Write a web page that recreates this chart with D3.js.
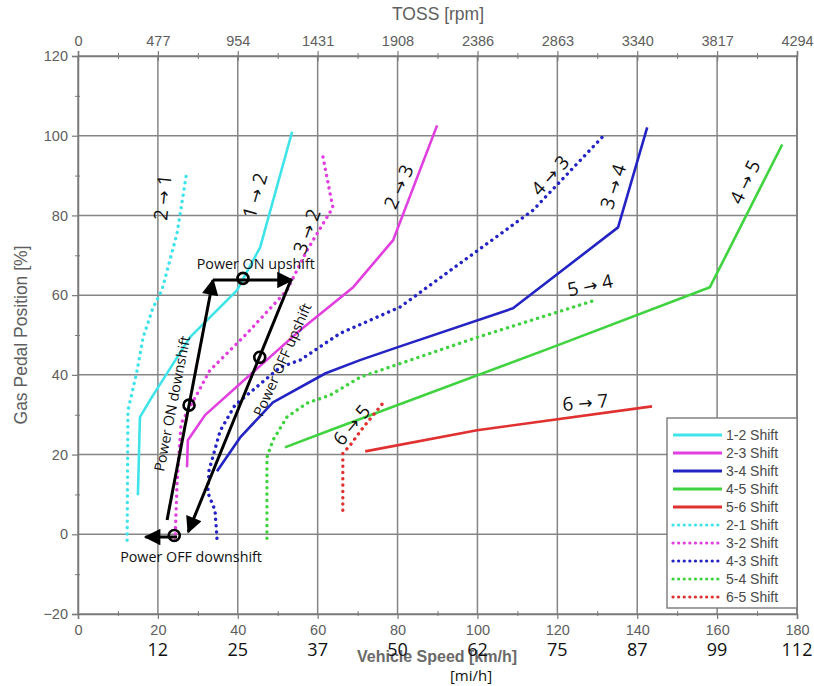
<!DOCTYPE html>
<html><head><meta charset="utf-8">
<script src="https://cdn.jsdelivr.net/npm/d3@7"></script>
<style>body{margin:0;background:#fff}svg{display:block}</style>
</head><body>
<svg id="c" width="814" height="686"></svg>
<script>
// ---- data ----
const speedTicks = [0,20,40,60,80,100,120,140,160,180];
const mphLabels  = ["","12","25","37","50","62","75","87","99","112"];
const tossTicks  = [0,477,954,1431,1908,2386,2863,3340,3817,4294];
const pedalTicks = [-20,0,20,40,60,80,100,120];

const shift12 = [[15.0,9.8],[15.5,29.4],[18.5,34.4],[28,49.4],[39.8,61.2],[45.6,72],[53.6,101]];
const shift23 = [[27.3,16.8],[27.5,23.6],[31.8,29.9],[55.6,51.2],[68.9,62],[78.9,73.8],[89.9,102.6]];
const shift34 = [[34.8,15.8],[40.6,24.3],[48.8,33.1],[62,40.4],[70.6,43.7],[79.9,46.9],[108.9,56.7],[135.2,77],[142.5,102.1]];
const shift45 = [[51.8,21.8],[63.1,26.1],[118.2,46.7],[158.2,62],[176.3,97.8]];
const shift56 = [[71.9,20.8],[99.9,26.1],[143.7,32.1]];
const shift21 = [[12.3,-1.5],[12.5,31],[14.8,41.1],[16.3,49.4],[18.8,56.9],[21,61.2],[24.8,75.5],[27.3,91.3]];
const shift32 = [[24.3,-1.5],[24.8,12.8],[25.8,27.8],[33,41.1],[42.3,50.4],[52.3,61.2],[57.3,71.2],[63.8,82],[61.1,95.8]];
const shift43 = [[34.8,-1],[34.3,6],[32.5,10.5],[32.8,16],[35.6,26],[39.3,32.4],[50.6,41.9],[55.6,43.7],[65.6,50.4],[80.6,57],[113.9,81.3],[131.2,99.6]];
const shift54 = [[47.3,-1],[47.3,19.3],[48.8,23.6],[52.3,29.4],[57.3,32.9],[63.1,34.9],[70.6,39.4],[99.9,49.4],[129.4,58.7]];
const shift65 = [[66.3,6],[66.3,20.3],[68.1,22.3],[71.4,26.8],[76.1,32.6]];

const seriesNames  = ["1-2 Shift","2-3 Shift","3-4 Shift","4-5 Shift","5-6 Shift","2-1 Shift","3-2 Shift","4-3 Shift","5-4 Shift","6-5 Shift"];
const seriesData   = [shift12,shift23,shift34,shift45,shift56,shift21,shift32,shift43,shift54,shift65];
const seriesColors = ["#3fe3ea","#e23fe0","#2424c4","#3fd33f","#e03030","#3fe3ea","#e23fe0","#2424c4","#3fd33f","#e03030"];
const seriesDotted = [false,false,false,false,false,true,true,true,true,true];

// shift labels: [from, to, speed, pedal, angle]
const shiftLabels = [
  ["2","1",21.2,84.5,-84],["1","2",44.3,85,-74],["3","2",57.3,76,-70],
  ["2","3",80.3,87.2,-66],["4","3",118.2,90,-48],["3","4",134,87.2,-72],
  ["4","5",167,88.4,-64],["5","4",128.2,62.5,-12],["6","7",127,33.1,-5],["6","5",68.5,27.4,-50]
];
// power annotation path (speed, pedal)
const onDown  = [[22.3,3.6],[33.8,63.8]];
const onUp    = [[33.8,63.8],[53.6,63.8]];
const offUp   = [[53.3,63.8],[27.6,0.6]];
const offDown = [[24.8,-0.7],[16.9,-0.7]];
const markers = [[41.3,64.2],[45.5,44.4],[27.8,32.4],[24.1,-0.3]];
const annLabels = [
  ["Power ON upshift",44.5,67.7,0],["Power ON downshift",23.6,32.8,-79],
  ["Power OFF upshift",51.2,43.8,-66],["Power OFF downshift",28.3,-5.8,0]
];

// ---- chart ----
const svg = d3.select("#c");
const x = d3.scaleLinear().domain([0,180]).range([78,797]);
const xTop = d3.scaleLinear().domain([0,4294]).range([78,797]);
const y = d3.scaleLinear().domain([-20,120]).range([614,56]);
const gray = "#5e5e5e";
const axisFont = "'Liberation Sans', Arial, sans-serif";
const blackFont = "'Open Sans', 'Noto Sans', sans-serif";

// grid
const grid = svg.append("g").attr("stroke","#858585").attr("stroke-width",1.5);
speedTicks.forEach(v=>grid.append("line").attr("x1",x(v)).attr("x2",x(v)).attr("y1",y(120)).attr("y2",y(-20)));
pedalTicks.forEach(v=>grid.append("line").attr("x1",x(0)).attr("x2",x(180)).attr("y1",y(v)).attr("y2",y(v)));

// axes
function styleAxis(g){
  g.select(".domain").attr("stroke","#7a7a7a").attr("stroke-width",1.5);
  g.selectAll(".tick line").attr("stroke","#7a7a7a").attr("stroke-width",1.2);
  g.selectAll("text").attr("fill",gray).style("font-family",axisFont).style("font-size","14.5px");
}
const minorX = d3.range(10,180,20);
const minorY = d3.range(-10,120,20);
const bAxis = svg.append("g").attr("transform",`translate(0,${y(-20)})`)
  .call(d3.axisBottom(x).tickValues(speedTicks).tickSize(5).tickFormat(d3.format("d")));
styleAxis(bAxis); bAxis.selectAll("text").attr("dy","0.9em");
svg.append("g").attr("transform",`translate(0,${y(-20)})`)
  .call(d3.axisBottom(x).tickValues(minorX).tickSize(3).tickFormat(""))
  .call(g=>{g.select(".domain").remove();g.selectAll("line").attr("stroke","#7a7a7a").attr("transform","translate(0,-3)").attr("y2",5);});
const tAxis = svg.append("g").attr("transform",`translate(0,${y(120)})`)
  .call(d3.axisTop(xTop).tickValues(tossTicks).tickSize(5).tickFormat(d3.format("d")));
styleAxis(tAxis); tAxis.selectAll(".tick line").attr("y2",-5).attr("y1",5);
tAxis.selectAll("text").attr("y",-10);
svg.append("g").attr("transform",`translate(0,${y(120)})`)
  .call(d3.axisTop(x).tickValues(minorX).tickSize(3).tickFormat(""))
  .call(g=>{g.select(".domain").remove();g.selectAll("line").attr("stroke","#7a7a7a").attr("y1",3);});
const lAxis = svg.append("g").attr("transform",`translate(${x(0)},0)`)
  .call(d3.axisLeft(y).tickValues(pedalTicks).tickSize(6).tickFormat(d3.format("d")));
styleAxis(lAxis); lAxis.selectAll("text").attr("x",-10);
svg.append("g").attr("transform",`translate(${x(0)},0)`)
  .call(d3.axisLeft(y).tickValues(minorY).tickSize(3).tickFormat(""))
  .call(g=>{g.select(".domain").remove();g.selectAll("line").attr("stroke","#7a7a7a").attr("x1",2);});
svg.append("line").attr("x1",x(180)).attr("x2",x(180)).attr("y1",y(120)).attr("y2",y(-20)).attr("stroke","#7a7a7a").attr("stroke-width",1.5);

// axis titles
svg.append("text").attr("x",438).attr("y",20).attr("text-anchor","middle").attr("fill",gray)
  .style("font-family",axisFont).style("font-size","17.5px").text("TOSS [rpm]");
svg.append("text").attr("x",437).attr("y",662).attr("text-anchor","middle").attr("fill","#6a6a6a")
  .style("font-family",axisFont).style("font-size","16px").style("font-weight","bold").text("Vehicle Speed [km/h]");
svg.append("text").attr("transform","translate(27,335) rotate(-90)").attr("text-anchor","middle").attr("fill",gray)
  .style("font-family",axisFont).style("font-size","17.5px").text("Gas Pedal Position [%]");

// mph labels
svg.append("g").selectAll("text").data(speedTicks).join("text")
  .attr("x",d=>x(d)).attr("y",656).attr("text-anchor","middle")
  .style("font-family",blackFont).style("font-size","18px").attr("fill","#111")
  .text((d,i)=>mphLabels[i]);
svg.append("text").attr("x",471).attr("y",681).attr("text-anchor","middle").attr("fill","#111")
  .style("font-family",blackFont).style("font-size","15px").text("[mi/h]");

// series lines
const line = d3.line().x(d=>x(d[0])).y(d=>y(d[1]));
seriesData.forEach((d,i)=>{
  const p = svg.append("path").attr("d",line(d)).attr("fill","none").attr("stroke",seriesColors[i]);
  if(seriesDotted[i]) p.attr("stroke-width",3.4).attr("stroke-dasharray","0.1 6.2").attr("stroke-linecap","round");
  else p.attr("stroke-width",2.6).attr("stroke-linejoin","round");
});

// shift labels
const sl = svg.append("g").selectAll("text").data(shiftLabels).join("text")
  .attr("transform",d=>`translate(${x(d[2])},${y(d[3])}) rotate(${d[4]})`)
  .attr("text-anchor","middle").attr("dy","0.35em")
  .style("font-family",blackFont).style("font-size","19px").attr("fill","#111");
sl.append("tspan").text(d=>d[0]+" ");
sl.append("tspan").style("font-family","'DejaVu Sans', sans-serif").style("font-size","17px").text("\u2192");
sl.append("tspan").text(d=>" "+d[1]);

// arrowheads
const defs = svg.append("defs");
defs.append("marker").attr("id","ah").attr("viewBox","0 0 10 10").attr("refX",9).attr("refY",5)
  .attr("markerWidth",6).attr("markerHeight",5.5).attr("markerUnits","strokeWidth").attr("orient","auto")
  .append("path").attr("d","M0,0 L10,5 L0,10 Z").attr("fill","#000");
[onDown,onUp,offUp,offDown].forEach(seg=>{
  svg.append("path").attr("d",line(seg)).attr("stroke","#000").attr("stroke-width",3).attr("fill","none")
    .attr("marker-end","url(#ah)");
});
svg.append("g").selectAll("circle").data(markers).join("circle")
  .attr("cx",d=>x(d[0])).attr("cy",d=>y(d[1])).attr("r",5.5)
  .attr("fill","none").attr("stroke","#000").attr("stroke-width",2.6);
svg.append("g").selectAll("text").data(annLabels).join("text")
  .attr("transform",d=>`translate(${x(d[1])},${y(d[2])}) rotate(${d[3]})`)
  .attr("text-anchor","middle").attr("dy","0.35em")
  .style("font-family",blackFont).style("font-size","14.3px").attr("fill","#111")
  .text(d=>d[0]);

// legend
const lg = svg.append("g");
lg.append("rect").attr("x",667).attr("y",418).attr("width",130).attr("height",190)
  .attr("fill","#fff").attr("stroke","#7a7a7a").attr("stroke-width",1.4);
seriesNames.forEach((n,i)=>{
  const yy = 435 + i*18;
  const l = lg.append("line").attr("x1",673).attr("x2",722).attr("y1",yy).attr("y2",yy).attr("stroke",seriesColors[i]);
  if(seriesDotted[i]) l.attr("stroke-width",3.2).attr("stroke-dasharray","0.1 5.5").attr("stroke-linecap","round");
  else l.attr("stroke-width",3);
  lg.append("text").attr("x",726).attr("y",yy).attr("dy","0.35em").attr("fill","#4a4a4a")
    .style("font-family",axisFont).style("font-size","14px").text(n);
});
</script>
</body></html>
